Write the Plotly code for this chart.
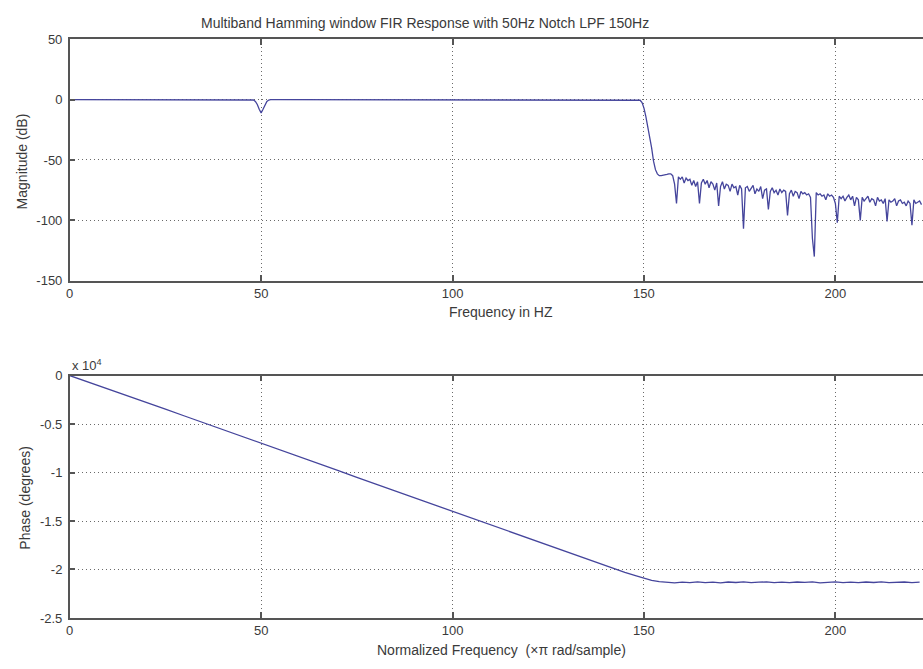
import plotly.graph_objects as go

# ---------------- data ----------------
title_text = "Multiband Hamming window FIR Response with 50Hz Notch LPF 150Hz"

mag_freq_pass = [0, 45, 47.5, 48, 48.5, 49, 49.5, 50, 50.5, 51, 51.5, 52, 52.5, 55, 100,
                 148.5, 149, 149.5, 150, 150.5, 151, 151.5, 152, 152.5, 153, 153.5, 154,
                 154.5, 155, 155.5, 156, 156.5]
mag_db_pass = [0, 0, 0, -0.3, -1.5, -4, -8, -11, -8, -4, -1.5, -0.3, 0, 0, 0,
               0, -0.5, -2.5, -7, -14, -22, -31, -40, -51, -58, -61.5, -63,
               -63, -62.8, -62.5, -62, -61.5]

stop_start = 157.0
mag_db_stop = [
    -61.5, -63, -70, -86, -64, -66, -64, -69, -65, -67,     # 157.0-161.5
    -66, -71, -67, -72, -68, -86, -69, -66, -70, -67,       # 162.0-166.5
    -73, -68, -70, -75, -69, -88, -72, -68, -74, -70,       # 167.0-171.5
    -71, -76, -70, -73, -72, -79, -71, -74, -107, -73,      # 172.0-176.5
    -72, -76, -73, -71, -78, -74, -76, -72, -82, -75,       # 177.0-181.5
    -74, -91, -76, -73, -77, -75, -79, -74, -77, -75,       # 182.0-186.5
    -76, -96, -78, -75, -80, -76, -77, -82, -76, -78,       # 187.0-191.5
    -77, -79, -78, -81, -115, -130, -77, -79, -78, -80,     # 192.0-196.5
    -79, -83, -78, -80, -79, -81, -86, -102, -80, -82,      # 197.0-201.5
    -80, -84, -81, -79, -83, -80, -88, -81, -83, -100,      # 202.0-206.5
    -81, -84, -82, -80, -85, -82, -83, -88, -81, -84,       # 207.0-211.5
    -83, -86, -82, -101, -83, -85, -84, -82, -88, -84,      # 212.0-216.5
    -83, -86, -85, -88, -84, -86, -104, -83, -86, -85,      # 217.0-221.5
    -84, -87,                                               # 222.0-222.5
]
mag_freq_stop = [stop_start + 0.5 * i for i in range(len(mag_db_stop))]

phase_freq = [0, 5, 10, 15, 20, 25, 30, 35, 40, 45, 50, 55, 60, 65, 70, 75, 80, 85, 90, 95,
              100, 105, 110, 115, 120, 125, 130, 135, 140, 145, 148, 150, 152, 154, 156,
              158, 160, 162, 164, 166, 168, 170, 172, 174, 176, 178, 180, 182, 184, 186,
              188, 190, 192, 194, 196, 198, 200, 202, 204, 206, 208, 210, 212, 214, 216,
              218, 220, 222]
phase_e4 = [0, -0.068, -0.137, -0.208, -0.278, -0.346, -0.417, -0.487, -0.556, -0.626,
            -0.690, -0.762, -0.834, -0.905, -0.978, -1.050, -1.120, -1.193, -1.264, -1.335,
            -1.405, -1.475, -1.545, -1.615, -1.684, -1.752, -1.822, -1.892, -1.962, -2.030,
            -2.065, -2.088, -2.112, -2.126, -2.132, -2.138, -2.130, -2.136, -2.128, -2.135,
            -2.131, -2.137, -2.129, -2.134, -2.128, -2.136, -2.131, -2.128, -2.135, -2.130,
            -2.136, -2.129, -2.133, -2.128, -2.137, -2.131, -2.128, -2.135, -2.130, -2.136,
            -2.129, -2.134, -2.128, -2.136, -2.131, -2.129, -2.135, -2.131]

x_ticks = [0, 50, 100, 150, 200]
x_ticktext = ["0", "50", "100", "150", "200"]
mag_ticks = [-150, -100, -50, 0, 50]
mag_ticktext = ["-150", "-100", "-50", "0", "50"]
phase_ticks = [-2.5, -2, -1.5, -1, -0.5, 0]
phase_ticktext = ["-2.5", "-2", "-1.5", "-1", "-0.5", "0"]

# ---------------- figure ----------------
W, H = 923, 669
line_color = "#45459c"
axis_color = "#555555"
grid_color = "#6a6a6a"
font_family = "Liberation Sans, Arial, sans-serif"
text_color = "#3a3a3a"

fig = go.Figure()
fig.add_trace(go.Scatter(x=mag_freq_pass + mag_freq_stop, y=mag_db_pass + mag_db_stop,
                         mode="lines", line=dict(color=line_color, width=1.3),
                         xaxis="x", yaxis="y", showlegend=False))
fig.add_trace(go.Scatter(x=phase_freq, y=phase_e4, mode="lines",
                         line=dict(color=line_color, width=1.3),
                         xaxis="x2", yaxis="y2", showlegend=False))

x_px0 = 66
x_scale = 3.845
x_max = (W - x_px0) / x_scale

def ax_common():
    return dict(showline=True, linecolor=axis_color, linewidth=1.5,
                ticks="inside", ticklen=6, tickcolor=axis_color, tickwidth=1.5,
                showgrid=True, gridcolor=grid_color, gridwidth=1, griddash="1px,3px",
                zeroline=False,
                tickfont=dict(family=font_family, size=13, color=text_color))

top_dom = [1 - 280 / H, 1 - 33 / H]
bot_dom = [1 - 625 / H, 1 - 377 / H]
xdom = [x_px0 / W, 1]

fig.update_layout(
    width=W, height=H, margin=dict(l=0, r=0, t=0, b=0),
    paper_bgcolor="white", plot_bgcolor="white",
    xaxis=dict(domain=xdom, range=[0, x_max], tickvals=x_ticks, ticktext=x_ticktext,
               anchor="y", mirror="ticks", **ax_common()),
    yaxis=dict(domain=top_dom, range=[-150, 50], tickvals=mag_ticks, ticktext=mag_ticktext,
               anchor="x", mirror=False, ticklabelstandoff=3, **ax_common()),
    xaxis2=dict(domain=xdom, range=[0, x_max], tickvals=x_ticks, ticktext=x_ticktext,
                anchor="y2", mirror="ticks", **ax_common()),
    yaxis2=dict(domain=bot_dom, range=[-2.5, 0], tickvals=phase_ticks,
                ticktext=phase_ticktext, anchor="x2", mirror=False, ticklabelstandoff=3,
                **ax_common()),
)

def ann(text, x, y, angle=0, size=14, xanchor="center", yanchor="middle"):
    fig.add_annotation(text=text, x=x / W, y=1 - y / H, xref="paper", yref="paper",
                       showarrow=False, textangle=angle, xanchor=xanchor, yanchor=yanchor,
                       font=dict(family=font_family, size=size, color=text_color))

ann(title_text, 423, 16)
ann("Frequency in HZ", 499, 312)
ann("Normalized Frequency\u00a0\u00a0(\u00d7\u03c0 rad/sample)", 500, 658)
ann("Magnitude (dB)", 19, 158, angle=-90)
ann("Phase (degrees)", 21, 502, angle=-90)
ann("x 10<sup>4</sup>", 66, 366, size=13, xanchor="left")

fig.write_html("out.html")
